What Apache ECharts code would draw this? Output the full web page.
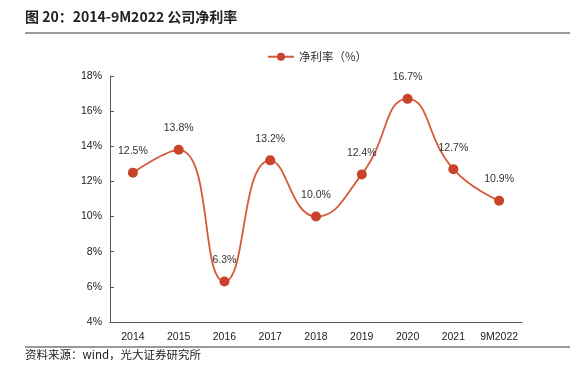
<!DOCTYPE html>
<html><head><meta charset="utf-8">
<script src="https://cdn.jsdelivr.net/npm/echarts@6/dist/echarts.min.js"></script>
<style>html,body{margin:0;padding:0;background:#fff;}#c{width:570px;height:372px;}</style>
</head><body><div id="c"></div>
<script>
const categories = ['2014','2015','2016','2017','2018','2019','2020','2021','9M2022'];
const netMargin = [12.5, 13.8, 6.3, 13.2, 10.0, 12.4, 16.7, 12.7, 10.9];
const seriesName = '净利率（%）';
const titleText = '图 20：2014-9M2022 公司净利率';
const sourceText = '资料来源：wind，光大证券研究所';

const chart = echarts.init(document.getElementById('c'), null, {renderer:'canvas'});
const narrow = '"Liberation Sans Narrow","Arial Narrow","Liberation Sans",Arial,sans-serif';
chart.setOption({
  animation:false,
  graphic:[
    {type:'text', left:25, top:10, style:{text:titleText, font:'bold 14px "Noto Sans CJK SC",sans-serif', fill:'#222'}},
    {type:'line', shape:{x1:25,y1:33,x2:570,y2:33}, style:{stroke:'#777', lineWidth:1.5}},
    {type:'line', shape:{x1:25,y1:347,x2:570,y2:347}, style:{stroke:'#777', lineWidth:1.5}},
    {type:'text', left:25, top:349, style:{text:sourceText, font:'11.5px "Noto Sans CJK SC",sans-serif', fill:'#222'}}
  ],
  legend:{top:46, left:262, itemWidth:26, itemHeight:10, itemGap:10,
    textStyle:{fontFamily:'"Noto Sans CJK SC",sans-serif', fontSize:11.5, color:'#333'}},
  grid:{left:110, right:48, top:76, bottom:50},
  xAxis:{type:'category', data:categories, boundaryGap:true,
    axisLine:{lineStyle:{color:'#555', width:1}},
    axisTick:{inside:true, length:4, lineStyle:{color:'#555'}},
    axisLabel:{interval:0, fontFamily:narrow, fontSize:10.5, color:'#222', margin:10}},
  yAxis:{type:'value', min:4, max:18, interval:2,
    axisLine:{show:true, lineStyle:{color:'#555', width:1}},
    axisTick:{show:true, inside:true, length:4, lineStyle:{color:'#555'}},
    splitLine:{show:false},
    axisLabel:{fontFamily:narrow, fontSize:10.5, color:'#222', formatter:'{value}%', margin:8}},
  series:[{
    name:seriesName, type:'line', data:netMargin, smooth:0.5,
    symbol:'circle', symbolSize:10,
    itemStyle:{color:'#C8432A'},
    lineStyle:{color:'#D5593A', width:1.8},
    label:{show:true, position:'top', distance:11, formatter:p=>p.value.toFixed(1)+'%',
      fontFamily:narrow, fontSize:10.5, color:'#333'}
  }]
});
</script></body></html>
